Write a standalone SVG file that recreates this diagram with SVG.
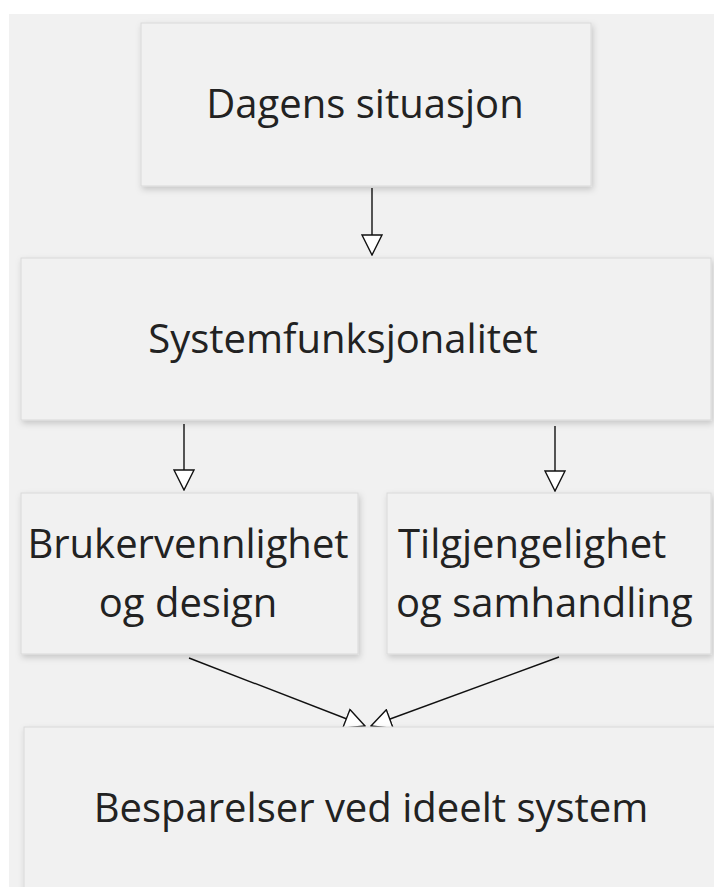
<svg xmlns="http://www.w3.org/2000/svg" width="714" height="887" viewBox="0 0 714 887">
  <style>
    .box { fill: #f1f1f1; stroke: #d9d9d9; stroke-width: 1; filter: url(#shadow); }
    .label { font-family: "Open Sans", "Liberation Sans", sans-serif; font-size: 40px; font-weight: 400; fill: #222222; }
    .mid { text-anchor: middle; }
    .link { fill: none; stroke: #111111; stroke-width: 1.4; marker-end: url(#open-arrow); }
  </style>
  <defs>
    <filter id="shadow" x="-10%" y="-10%" width="120%" height="130%">
      <feDropShadow dx="1.5" dy="3" stdDeviation="3" flood-color="#000000" flood-opacity="0.18"/>
    </filter>
    <marker id="open-arrow" viewBox="0 0 22 22" refX="21" refY="11" markerWidth="22" markerHeight="22" markerUnits="userSpaceOnUse" orient="auto">
      <path d="M1,1 L21,11 L1,21 Z" fill="#ffffff" stroke="#111111" stroke-width="1.4" stroke-linejoin="miter"/>
    </marker>
  </defs>

  <!-- canvas -->
  <rect x="0" y="0" width="714" height="887" fill="#ffffff"/>
  <rect x="9" y="14" width="705" height="873" fill="#f1f1f1"/>

  <g id="connectors">
    <line class="link" x1="372" y1="188" x2="372" y2="255"/>
    <line class="link" x1="184" y1="424" x2="184" y2="490"/>
    <line class="link" x1="555" y1="426" x2="555" y2="491"/>
    <line class="link" x1="189" y1="658" x2="365" y2="726"/>
    <line class="link" x1="559" y1="657" x2="371" y2="726"/>
  </g>

  <g id="dagens-situasjon">
    <rect class="box" x="141" y="23" width="450" height="163"/>
    <text class="label mid" x="365" y="118">Dagens situasjon</text>
  </g>

  <g id="systemfunksjonalitet">
    <rect class="box" x="21" y="258" width="690" height="162"/>
    <text class="label mid" x="343" y="353">Systemfunksjonalitet</text>
  </g>

  <g id="brukervennlighet">
    <rect class="box" x="21" y="493" width="337" height="161"/>
    <text class="label mid" x="188" y="558">Brukervennlighet</text>
    <text class="label mid" x="188" y="617">og design</text>
  </g>

  <g id="tilgjengelighet">
    <rect class="box" x="387" y="493" width="324" height="161"/>
    <text class="label" x="398" y="558">Tilgjengelighet</text>
    <text class="label" x="396" y="617">og samhandling</text>
  </g>

  <g id="besparelser">
    <rect class="box" x="24" y="727" width="700" height="180"/>
    <text class="label mid" x="371" y="822">Besparelser ved ideelt system</text>
  </g>
</svg>
